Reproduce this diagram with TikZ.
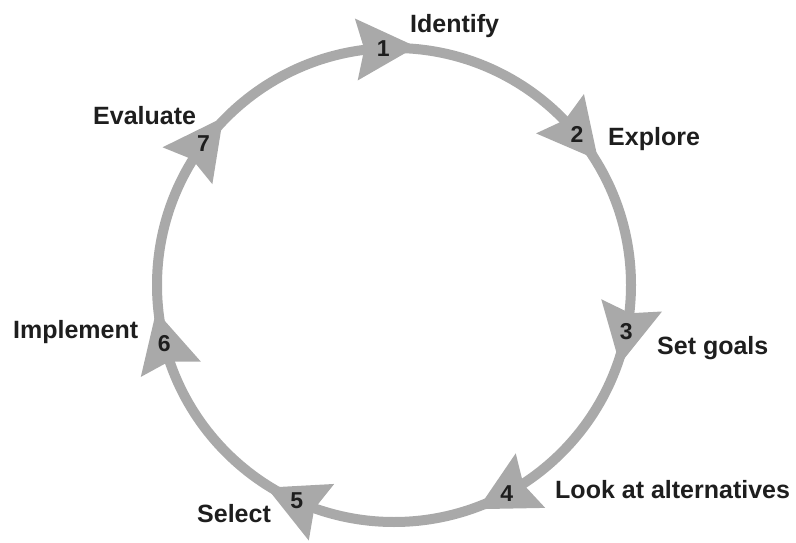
\documentclass[tikz,border=0pt]{standalone}
\usepackage{fontspec}
\setmainfont{Liberation Sans}
\usetikzlibrary{calc}
\definecolor{ring}{HTML}{A9A9A9}
\definecolor{ink}{HTML}{1E1E1E}
\tikzset{
  ringline/.style={draw=ring, line width=10pt},
  headshape/.style={fill=ring, draw=none},
  numlabel/.style={font=\bfseries\fontsize{23}{23}\selectfont, text=ink, inner sep=0pt},
  steplabel/.style={font=\bfseries\fontsize{25}{25}\selectfont, text=ink, inner sep=0pt, anchor=base west},
}
\begin{document}
\begin{tikzpicture}[x=1pt,y=1pt]
\useasboundingbox (0,0) rectangle (796,542);
\coordinate (C) at (394,257);
\draw[ringline] (C) circle[radius=237pt];
\foreach \a/\n in {92.6/1, 39.4/2, -11.4/3, -61.6/4, -114.2/5, -165.8/6, 143.5/7}{
  \begin{scope}[shift={($(C)+(\a:237)$)}, rotate=\a-90]
    \fill[headshape] (33,0) -- (-27,31) -- (-19,0) -- (-27,-31) -- cycle;
  \end{scope}
  \node[numlabel] (n\n) at ($(C)+(\a:237)$) {\n};
}
\node[steplabel] (l1) at (410,509) {Identify};
\node[steplabel] (l2) at (608,396) {Explore};
\node[steplabel] (l3) at (657,188) {Set goals};
\node[steplabel] (l4) at (555,44) {Look at alternatives};
\node[steplabel] (l5) at (197,20) {Select};
\node[steplabel] (l6) at (13,204) {Implement};
\node[steplabel] (l7) at (93,417) {Evaluate};
\end{tikzpicture}
\end{document}
